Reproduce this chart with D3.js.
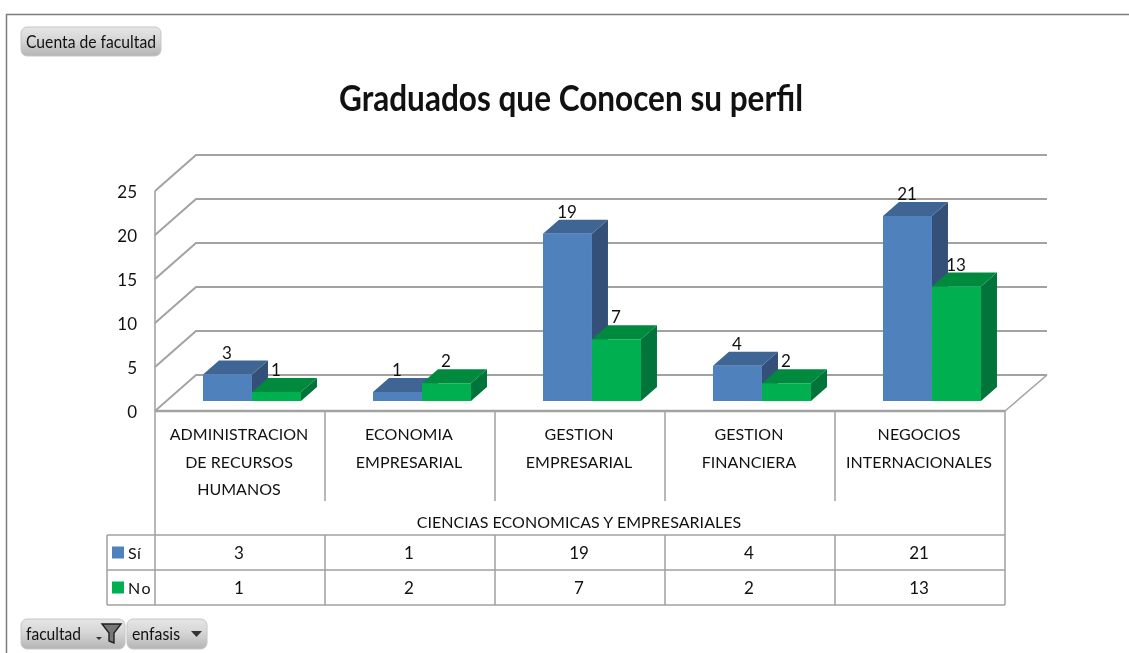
<!DOCTYPE html>
<html><head><meta charset="utf-8">
<script src="https://cdn.jsdelivr.net/npm/d3@7"></script>
<style>
html,body{margin:0;padding:0;background:#fff;overflow:hidden}
svg{display:block;filter:blur(0.5px)}
text{font-family:Lato,"Open Sans",sans-serif;fill:#111}
</style></head><body><svg id="c" width="1129" height="653"></svg>
<script>
const title = "Graduados que Conocen su perfil";
const categories = ["ADMINISTRACION DE RECURSOS HUMANOS","ECONOMIA EMPRESARIAL","GESTION EMPRESARIAL","GESTION FINANCIERA","NEGOCIOS INTERNACIONALES"];
const categoryLines = [["ADMINISTRACION","DE RECURSOS","HUMANOS"],["ECONOMIA","EMPRESARIAL"],["GESTION","EMPRESARIAL"],["GESTION","FINANCIERA"],["NEGOCIOS","INTERNACIONALES"]];
const groupLabel = "CIENCIAS ECONOMICAS Y EMPRESARIALES";
const seriesNames = ["Sí","No"];
const si = [3,1,19,4,21];
const no = [1,2,7,2,13];
const yTicks = [0,5,10,15,20,25];
const palette = {Sí:{front:"#4f81bd",top:"#3e6593",side:"#344f78"},No:{front:"#00b050",top:"#008a3e",side:"#00743a"}};

const svg = d3.select("#c");
const x = d3.scaleBand().domain(categories).range([155,1005]);
const y = d3.scaleLinear().domain([0,25]).range([411,191]);
const sub = d3.scaleBand().domain(seriesNames).range([36.5,134.5]);
const depthX = d3.scaleLinear().domain([0,1]).range([0,41]);
const depthY = d3.scaleLinear().domain([0,1]).range([0,-36]);
const P = (px,v,z)=>[px+depthX(z), y(v)+depthY(z)];
const line = d3.line();
const grid = "#a2a2a2";
const backRight = 1047;

// frame
svg.append("path").attr("d","M6.5,653V14.5H1129").attr("fill","none").attr("stroke","#7c7c7c").attr("stroke-width",1.5);

// walls and gridlines
const [L,R] = x.range();
yTicks.forEach(t=>{
  svg.append("path").attr("d",line([P(L,t,0),P(L,t,1),[backRight,P(L,t,1)[1]]]))
    .attr("fill","none").attr("stroke",grid).attr("stroke-width",t===0?1.8:2);
});
svg.append("path").attr("d",line([P(R,0,0),[backRight,P(L,0,1)[1]]])).attr("fill","none").attr("stroke",grid).attr("stroke-width",1.5);
svg.append("line").attr("x1",L).attr("x2",L).attr("y1",y(25)).attr("y2",y(0)).attr("stroke",grid).attr("stroke-width",1.6);
svg.append("line").attr("x1",L).attr("x2",R).attr("y1",y(0)).attr("y2",y(0)).attr("stroke",grid).attr("stroke-width",2.6);

// y tick labels
svg.selectAll(".yt").data(yTicks).enter().append("text").attr("class","yt")
  .attr("x",137).attr("y",d=>y(d)+7).attr("text-anchor","end").attr("font-size",17).text(d=>d);

// bars
const zF=0.28, zB=0.67;
const series=[{name:"Sí",vals:si},{name:"No",vals:no}];
categories.forEach((c,i)=>{
  series.forEach(s=>{
    const v=s.vals[i], x0=x(c)+sub(s.name), x1=x0+sub.bandwidth(), col=palette[s.name];
    const g=svg.append("g");
    g.append("path").attr("fill",col.side).attr("d",line([P(x1,0,zF),P(x1,0,zB),P(x1,v,zB),P(x1,v,zF)])+"Z");
    g.append("path").attr("fill",col.top).attr("d",line([P(x0,v,zF),P(x0,v,zB),P(x1,v,zB),P(x1,v,zF)])+"Z");
    g.append("path").attr("fill",col.front).attr("d",line([P(x0,v,zF),P(x1,v,zF),P(x1,0,zF),P(x0,0,zF)])+"Z");
  });
});
// data labels
categories.forEach((c,i)=>{
  series.forEach(s=>{
    const v=s.vals[i], cx=x(c)+sub(s.name)+sub.bandwidth()/2+11;
    svg.append("text").attr("x",cx).attr("y",P(0,v,zF)[1]-16).attr("text-anchor","middle").attr("font-size",17).text(v);
  });
});

// title
svg.append("text").attr("x",339).attr("y",111).attr("font-size",36).attr("font-weight",700)
  .attr("textLength",464).attr("lengthAdjust","spacingAndGlyphs").text(title);

// data table
const rowY=d3.scaleBand().domain(seriesNames).range([535,605]);
const tc="#a0a0a0";
const hl=(x1,x2,yy)=>svg.append("line").attr("x1",x1).attr("x2",x2).attr("y1",yy).attr("y2",yy).attr("stroke",tc).attr("stroke-width",1.5);
const vl=(xx,y1,y2)=>svg.append("line").attr("x1",xx).attr("x2",xx).attr("y1",y1).attr("y2",y2).attr("stroke",tc).attr("stroke-width",1.5);
[535,570,605].forEach(v=>hl(107,R,v));
vl(107,535,605);vl(L,411,605);vl(R,411,605);
categories.slice(1).forEach(c=>{vl(x(c),411,501);vl(x(c),535,605);});
categoryLines.forEach((ls,i)=>{
  const cx=x(categories[i])+x.bandwidth()/2-1;
  ls.forEach((t,j)=>{
    svg.append("text").attr("x",cx).attr("y",440+j*27.5).attr("text-anchor","middle").attr("font-size",16).attr("letter-spacing",0.05).text(t);
  });
});
svg.append("text").attr("x",579).attr("y",528).attr("text-anchor","middle").attr("font-size",16).attr("letter-spacing",0.05).text(groupLabel);
series.forEach(s=>{
  const ry=rowY(s.name), h=rowY.bandwidth();
  svg.append("rect").attr("x",112).attr("y",ry+h/2-6).attr("width",12).attr("height",12).attr("fill",palette[s.name].front);
  svg.append("text").attr("x",128).attr("y",ry+h/2+6).attr("font-size",16).attr("letter-spacing",s.name==="No"?1.5:0.5).text(s.name);
  s.vals.forEach((v,i)=>{
    svg.append("text").attr("x",x(categories[i])+x.bandwidth()/2-1).attr("y",ry+h/2+6).attr("text-anchor","middle").attr("font-size",17).text(v);
  });
});

// buttons
const defs=svg.append("defs");
const gr=defs.append("linearGradient").attr("id","btn").attr("x1",0).attr("x2",0).attr("y1",0).attr("y2",1);
gr.append("stop").attr("offset","0%").attr("stop-color","#e6e6e6");
gr.append("stop").attr("offset","45%").attr("stop-color","#d6d6d6");
gr.append("stop").attr("offset","100%").attr("stop-color","#b4b4b4");
function button(x0,y0,w,h,label,tl){
  svg.append("rect").attr("x",x0).attr("y",y0).attr("width",w).attr("height",h).attr("rx",6).attr("fill","url(#btn)").attr("stroke","#c6c6c6");
  svg.append("text").attr("x",x0+5).attr("y",y0+h/2+6).attr("font-size",17).attr("fill","#3a3a3a")
    .attr("textLength",tl).attr("lengthAdjust","spacingAndGlyphs").text(label);
}
button(21,27,140,29,"Cuenta de facultad",130);
button(21,619,104,30,"facultad",55);
button(127,619,80,30,"enfasis",48);
svg.append("path").attr("d","M96,637h6l-3,3z").attr("fill","#333");
svg.append("path").attr("d","M102,624h19l-7,9v10l-5,-2v-8z").attr("fill","#777").attr("stroke","#222").attr("stroke-width",1.4);
svg.append("path").attr("d","M191,631h11l-5.5,6z").attr("fill","#333");
</script></body></html>
